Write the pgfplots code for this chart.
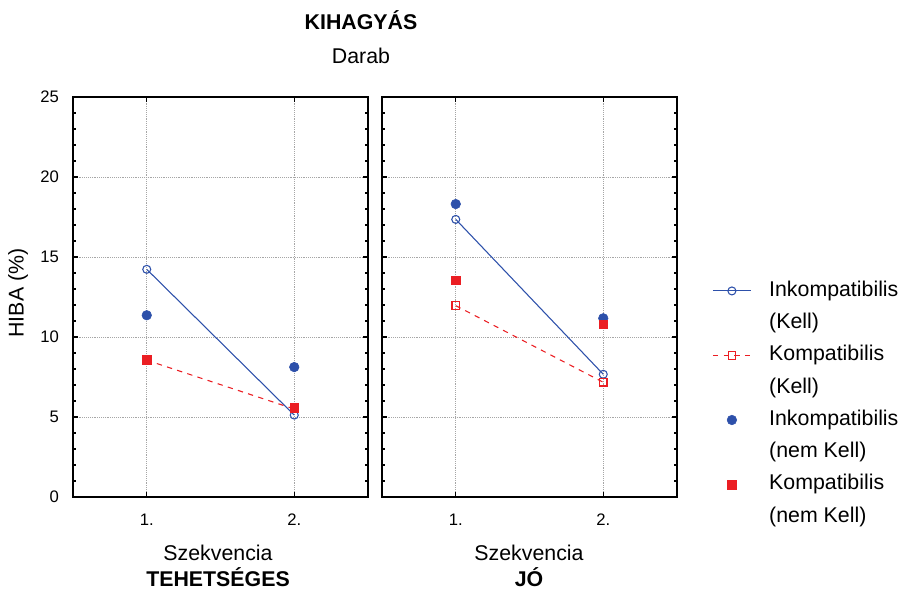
\documentclass[border=0pt]{standalone}
\usepackage{fontspec}
\setmainfont{Liberation Sans}
\usepackage{pgfplots}
\pgfplotsset{compat=1.18}
\definecolor{cblue}{RGB}{45,80,170}
\definecolor{cred}{RGB}{235,30,35}
\pgfplotsset{
  panel/.style={
    scale only axis, width=221.25pt, height=300pt,
    xmin=0.5, xmax=2.5, ymin=0, ymax=25,
    xtick={1,2}, xticklabels={1.,2.},
    ytick={0,5,10,15,20,25}, minor y tick num=4,
    tick pos=both, tick align=inside,
    major tick length=4pt, minor tick length=2.5pt,
    axis line style={line width=1.1pt},
    every tick/.style={black, line width=0.8pt},
    grid=major, major grid style={densely dotted, gray!70, line width=0.6pt},
    tick label style={font=\fontsize{12.5}{14}\selectfont},
    /pgf/number format/assume math mode=true,
    yticklabel style={xshift=-7pt},
    xticklabel style={yshift=-9pt},
    legend image code/.code={\draw[mark repeat=2,mark phase=2,##1] plot coordinates {(0pt,0pt) (14.25pt,0pt) (28.5pt,0pt)};},
  },
  ikk/.style={cblue, line width=0.8pt, mark=o, mark size=3pt, mark options={solid, fill=white, line width=0.8pt}},
  kk/.style={cred, line width=0.8pt, dash pattern=on 4pt off 4pt, mark=square, mark size=2.8pt, mark options={solid, fill=white, line width=0.8pt}},
  ikn/.style={cblue, only marks, mark=*, mark size=3.6pt},
  kn/.style={cred, only marks, mark=square*, mark size=3.3pt},
}
\begin{document}
\begin{tikzpicture}[x=0.75pt,y=0.75pt]
\useasboundingbox (0,0) rectangle (919,590);
\begin{axis}[panel, at={(54.75pt,69.75pt)}, anchor=south west]
\addplot[ikk] coordinates {(1,14.23) (2,5.12)};
\addplot[kk] coordinates {(1,8.55) (2,5.5)};
\addplot[ikn] coordinates {(1,11.36) (2,8.12)};
\addplot[kn] coordinates {(1,8.6) (2,5.6)};
\end{axis}
\begin{axis}[panel, at={(286.5pt,69.75pt)}, anchor=south west, yticklabels={},
  legend style={draw=none, fill=none, at={(1.119,0.5425)}, anchor=north west,
    font=\fontsize{16}{19}\selectfont, cells={anchor=west},
    nodes={inner sep=0pt, text height=12pt, text depth=4pt},
    row sep=8.2pt, inner sep=0pt,
    /tikz/every odd column/.append style={column sep=13.3pt}},
  legend cell align=left]
\addplot[ikk] coordinates {(1,17.35) (2,7.67)};
\addlegendimage{empty legend}
\addplot[kk] coordinates {(1,11.96) (2,7.17)};
\addlegendimage{empty legend}
\addplot[ikn] coordinates {(1,18.31) (2,11.17)};
\addlegendimage{empty legend}
\addplot[kn] coordinates {(1,13.54) (2,10.79)};
\addlegendimage{empty legend}
\legend{Inkompatibilis,(Kell),Kompatibilis,(Kell),Inkompatibilis,(nem Kell),Kompatibilis,(nem Kell)}
\end{axis}
\node[font=\fontsize{16}{19}\selectfont\bfseries] at (361,570) {KIHAGYÁS};
\node[font=\fontsize{16}{19}\selectfont] at (361,534) {Darab};
\node[font=\fontsize{16}{19}\selectfont, rotate=90] at (18,297) {HIBA (\%)};
\node[font=\fontsize{16}{19}\selectfont] at (218,37) {Szekvencia};
\node[font=\fontsize{16}{19}\selectfont\bfseries] at (218,13) {TEHETSÉGES};
\node[font=\fontsize{16}{19}\selectfont] at (529,37) {Szekvencia};
\node[font=\fontsize{16}{19}\selectfont\bfseries] at (529,13) {JÓ};
\end{tikzpicture}
\end{document}
